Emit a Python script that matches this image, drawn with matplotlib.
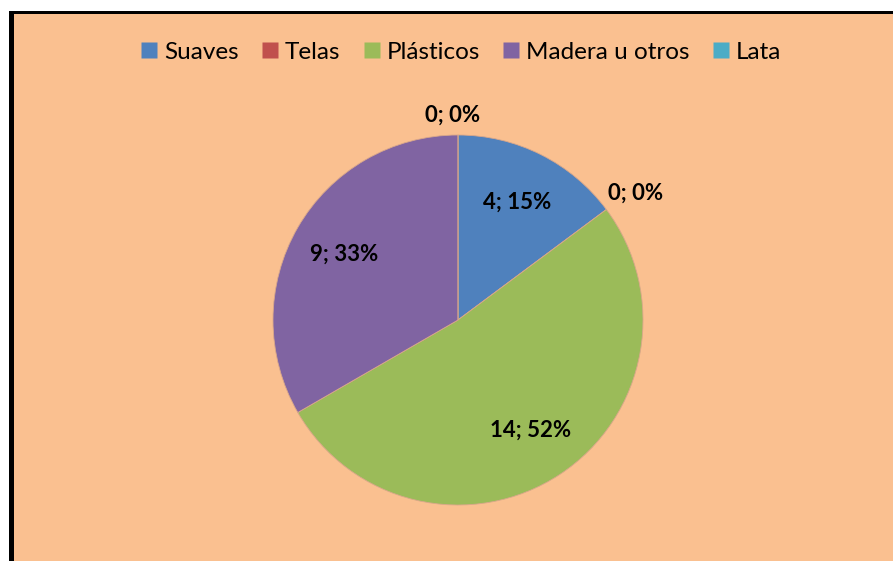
import numpy as np
import matplotlib
matplotlib.use("Agg")
import matplotlib.pyplot as plt
from matplotlib.patches import Rectangle
from matplotlib.lines import Line2D

categories = ["Suaves", "Telas", "Plásticos", "Madera u otros", "Lata"]
values = [4, 0, 14, 9, 0]
colors = ["#4F81BD", "#C0504D", "#9BBB59", "#8064A2", "#4BACC6"]
bg = "#FAC090"

W, H = 893, 561
fig = plt.figure(figsize=(W / 100, H / 100), dpi=100, facecolor="white")

# background panel and border
fig.patches.append(Rectangle((14 / W, 0), 1 - 14 / W, 1 - 14 / H, transform=fig.transFigure,
                             facecolor=bg, edgecolor="none", zorder=-2))
fig.patches.append(Rectangle((9 / W, 0), 5 / W, 1 - 11 / H, transform=fig.transFigure,
                             facecolor="black", edgecolor="none", zorder=-1))
fig.patches.append(Rectangle((9 / W, 1 - 14 / H), 1 - 9 / W, 3 / H, transform=fig.transFigure,
                             facecolor="black", edgecolor="none", zorder=-1))

cx, cy, r = 458, 320, 185
lim = 1.2
size = 2 * r * lim
ax = fig.add_axes([(cx - size / 2) / W, (H - cy - size / 2) / H, size / W, size / H])
ax.set_zorder(2)
ax.patch.set_visible(False)
ax.axis("off")

wedges, _ = ax.pie(values, colors=colors, startangle=90, counterclock=False, radius=1.0,
                   wedgeprops=dict(linewidth=0.6, edgecolor="#d9a78a"))
ax.set_xlim(-lim, lim)
ax.set_ylim(-lim, lim)
ax.set_aspect("equal")

total = sum(values)
font = ["Lato", "DejaVu Sans"]
for w, v in zip(wedges, values):
    pct = round(100 * v / total)
    lab = f"{v}; {pct}%"
    mid = np.deg2rad((w.theta1 + w.theta2) / 2)
    dx, dy = np.cos(mid), np.sin(mid)
    if v > 0:
        ax.text(0.71 * dx, 0.71 * dy, lab, ha="center", va="center", fontsize=16,
                fontweight="bold", family=font, color="black")
    else:
        if abs(dx) < 0.2:
            ha = "center"
            x = 1.05 * dx - 0.03
        else:
            ha = "left" if dx > 0 else "right"
            x = 1.05 * dx - 0.03
        va = "bottom" if dy > 0 else "top"
        ax.text(x, 1.05 * dy, lab, ha=ha, va=va, fontsize=16,
                fontweight="bold", family=font, color="black")

handles = [Line2D([], [], marker="s", linestyle="none", markersize=11,
                  markerfacecolor=c, markeredgecolor="none") for c in colors]
fig.legend(handles, categories, loc="center", bbox_to_anchor=(462 / W, 1 - 52 / H),
           ncol=5, frameon=False, prop=dict(family=font, size=17.5),
           handlelength=0.5, handletextpad=0.35, columnspacing=1.05)

fig.savefig("out.png", dpi=100, facecolor="white")
